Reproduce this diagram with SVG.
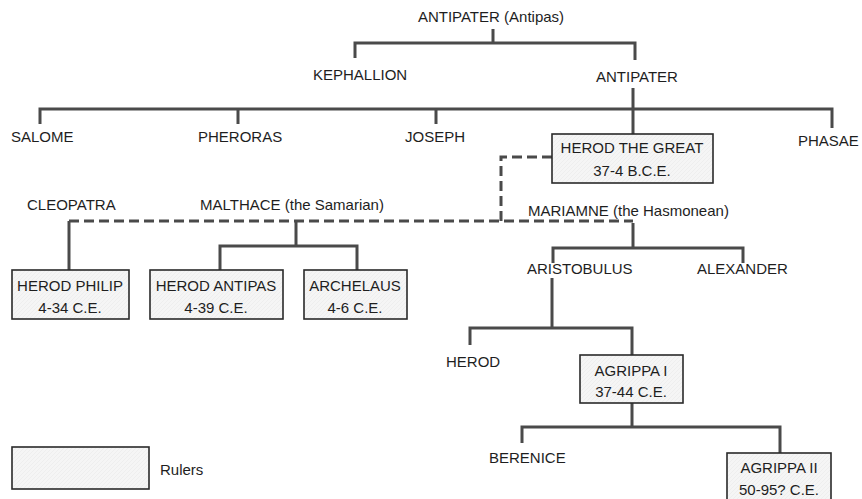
<svg xmlns="http://www.w3.org/2000/svg" width="862" height="499" viewBox="0 0 862 499">
<defs>
<pattern id="stip" width="4" height="4" patternUnits="userSpaceOnUse">
<rect width="4" height="4" fill="#f5f5f5"/>
<path d="M0 4 L4 0" stroke="#e6e6e6" stroke-width="0.5"/>
</pattern>
</defs>
<style>
text{font-family:"Liberation Sans",Arial,sans-serif;font-size:15px;fill:#1e1e1e}
.c{text-anchor:middle}
.box{fill:url(#stip);stroke:#2a2a2a;stroke-width:1.6}
.ln{fill:none;stroke:#4a4a4a;stroke-width:3}
.ds{fill:none;stroke:#4a4a4a;stroke-width:3;stroke-dasharray:10,5}
</style>
<rect width="862" height="499" fill="#ffffff"/>
<g id="connectors">
<path class="ln" d="M493 29 V43 M355 58 V43 H635 V60"/>
<path class="ln" d="M633 88 V134 M40 124 V109 H832 V128 M238 109 V124 M436 109 V124"/>
<path class="ds" d="M552 157 H501 V222"/>
<path class="ds" d="M69 221 H633"/>
<path class="ln" d="M69 221 V270"/>
<path class="ln" d="M296 221 V246 M220 270 V246 H357 V270"/>
<path class="ln" d="M633 223 V248 M553 263 V248 H743 V263"/>
<path class="ln" d="M552 278 V328 M470 345 V328 H632 V355"/>
<path class="ln" d="M632 403 V427 M522 443 V427 H780 V453"/>
</g>
<g id="antipater-antipas"><text x="491" y="22" class="c">ANTIPATER (Antipas)</text></g>
<g id="kephallion"><text x="313" y="80">KEPHALLION</text></g>
<g id="antipater"><text x="596" y="82">ANTIPATER</text></g>
<g id="salome"><text x="11" y="142">SALOME</text></g>
<g id="pheroras"><text x="198" y="142">PHERORAS</text></g>
<g id="joseph"><text x="405" y="142">JOSEPH</text></g>
<g id="phasae"><text x="798" y="146">PHASAE</text></g>
<g id="herod-the-great">
<rect class="box" x="552" y="134" width="161" height="49"/>
<text x="632" y="153" class="c">HEROD THE GREAT</text>
<text x="632" y="176" class="c">37-4 B.C.E.</text>
</g>
<g id="cleopatra"><text x="27" y="210">CLEOPATRA</text></g>
<g id="malthace"><text x="200" y="210">MALTHACE (the Samarian)</text></g>
<g id="mariamne"><text x="528" y="216">MARIAMNE (the Hasmonean)</text></g>
<g id="herod-philip">
<rect class="box" x="12" y="270" width="117" height="49"/>
<text x="70" y="291" class="c">HEROD PHILIP</text>
<text x="70" y="313" class="c">4-34 C.E.</text>
</g>
<g id="herod-antipas">
<rect class="box" x="150" y="270" width="133" height="49"/>
<text x="216" y="291" class="c">HEROD ANTIPAS</text>
<text x="216" y="313" class="c">4-39 C.E.</text>
</g>
<g id="archelaus">
<rect class="box" x="304" y="270" width="103" height="49"/>
<text x="355" y="291" class="c">ARCHELAUS</text>
<text x="355" y="313" class="c">4-6 C.E.</text>
</g>
<g id="aristobulus"><text x="527" y="274">ARISTOBULUS</text></g>
<g id="alexander"><text x="697" y="274">ALEXANDER</text></g>
<g id="herod"><text x="446" y="367">HEROD</text></g>
<g id="agrippa-i">
<rect class="box" x="580" y="355" width="103" height="48"/>
<text x="631" y="376" class="c">AGRIPPA I</text>
<text x="631" y="397" class="c">37-44 C.E.</text>
</g>
<g id="berenice"><text x="489" y="463">BERENICE</text></g>
<g id="agrippa-ii">
<rect class="box" x="727" y="453" width="104" height="52"/>
<text x="779" y="473" class="c">AGRIPPA II</text>
<text x="779" y="495" class="c">50-95? C.E.</text>
</g>
<g id="legend">
<rect class="box" x="12" y="447" width="137" height="42"/>
<text x="160" y="475">Rulers</text>
</g>
</svg>
